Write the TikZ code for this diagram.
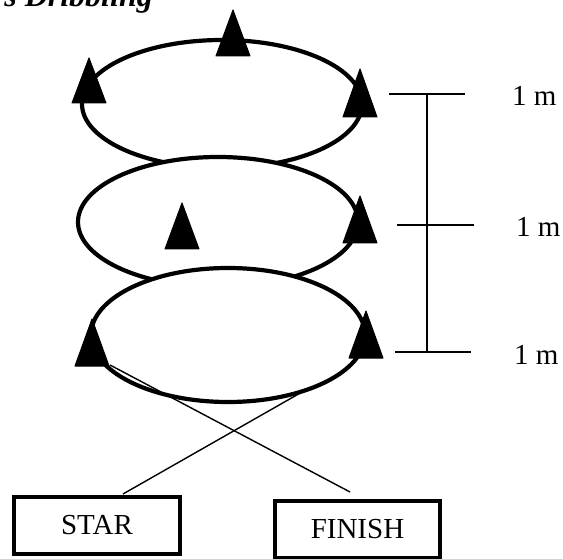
\documentclass[tikz,border=0pt]{standalone}
\usepackage{fontspec}
\setmainfont{Liberation Serif}
\begin{document}
\begin{tikzpicture}[x=1pt,y=-1pt,
  loop/.style={draw=black,fill=white,line width=4.2pt},
  cone/.style={fill=black,draw=black,line width=1pt,line join=round},
  thin/.style={draw=black,line width=1.4pt},
  tick/.style={draw=black,line width=1.6pt},
  box/.style={draw=black,line width=4pt,minimum width=166pt,minimum height=57pt,inner sep=0pt,font=\fontsize{29}{34}\selectfont},
  lbl/.style={anchor=west,inner sep=0pt,font=\fontsize{29}{34}\selectfont}]
\useasboundingbox (0,0) rectangle (563,559);
% title (cut off at the top edge, as in the reference)
\node[anchor=base east,inner sep=0pt,font=\fontsize{32}{36}\selectfont\bfseries\itshape] (title) at (153,7) {s Dribbling};
% ellipses
\draw[loop] (222,104) ellipse [x radius=140,y radius=64];
\draw[loop] (218,222) ellipse [x radius=140,y radius=65];
\draw[loop] (228,335) ellipse [x radius=137,y radius=67];
% crossing lines
\coordinate (s1) at (110,365);
\coordinate (e1) at (350,492);
\coordinate (s2) at (302,392);
\coordinate (e2) at (123,494);
\draw[thin] (s1) -- (e1);
\draw[thin] (s2) -- (e2);
% cones
\newcommand{\cone}[3]{\path[cone] (#1,#2) -- (#1-17,#2+#3) -- (#1+17,#2+#3) -- cycle;}
\cone{233}{10}{46}
\cone{89}{58}{45}
\cone{360}{69}{48}
\cone{182}{203}{46}
\cone{360}{196}{47}
\cone{92}{319}{47}
\cone{366}{311}{47}
% scale bar
\coordinate (b1) at (427,94);
\coordinate (b3) at (427,352);
\draw[thin] (b1) -- (b3);
\draw[tick] (389,94) -- (465,94);
\draw[tick] (397,225) -- (474,225);
\draw[tick] (395,352) -- (471,352);
\node[lbl] (m1) at (512,96) {1 m};
\node[lbl] (m2) at (516,227) {1 m};
\node[lbl] (m3) at (514,355) {1 m};
% boxes
\node[box] (star) at (97,525) {STAR};
\node[box,minimum width=165pt] (finish) at (357.5,529) {FINISH};
\end{tikzpicture}
\end{document}
